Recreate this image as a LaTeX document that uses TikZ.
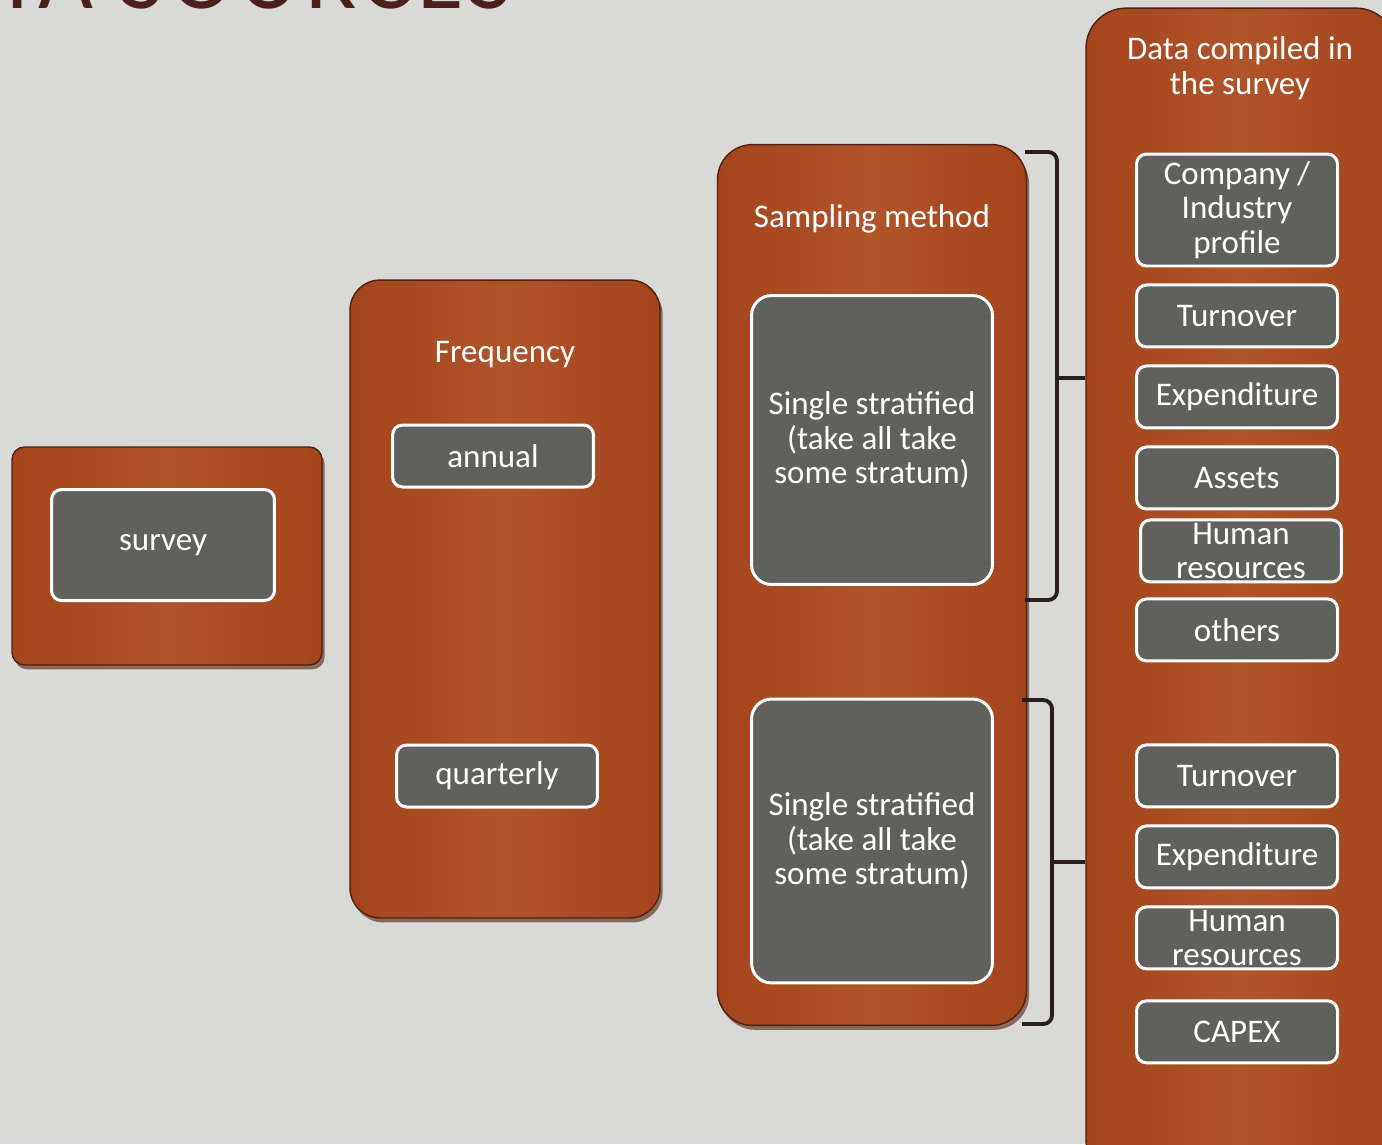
\documentclass[tikz,border=0pt]{standalone}
\usepackage{fontspec}
\setmainfont{Carlito}
\newfontfamily\headfont[LetterSpace=6]{Carlito}
\usepackage{tikz}
\usetikzlibrary{positioning, shadows}

\definecolor{canvas}{RGB}{217,217,215}
\definecolor{brickD}{RGB}{164,68,28}
\definecolor{brickL}{RGB}{176,84,42}
\definecolor{brickE}{RGB}{80,32,14}
\definecolor{slate}{RGB}{96,97,92}
\definecolor{ink}{RGB}{42,30,32}
\definecolor{headink}{RGB}{75,31,28}
\newcommand\boxfont{\fontsize{18.8}{19.6}\selectfont}

\tikzset{
	panel/.style={draw=brickE, line width=0.8pt, rounded corners=0.6cm,
		left color=brickD, right color=brickD, middle color=brickL,
		drop shadow={shadow xshift=1.5pt, shadow yshift=-2.5pt, opacity=.6, fill=brickE},
		inner sep=0},
	item/.style={draw=white, line width=0.06cm, fill=slate, rounded corners=0.2cm,
		text=white, font=\boxfont, align=center, inner sep=0,
		minimum width=4.02cm, minimum height=1.24cm},
	head/.style={text=white, font=\boxfont, align=center},
	brace/.style={draw=ink, line width=2.2pt, rounded corners=5pt}
}

\begin{document}
\begin{tikzpicture}[x=0.02cm, y=-0.02cm, node distance=0.32cm]
		\useasboundingbox[fill=canvas] (0,0) rectangle (1382,1144);
		\node[anchor=base east, inner sep=0, text=headink, font={\headfont\fontsize{54}{60}\selectfont}] (title) at (513,8) {DATA SOURCES};
		% survey
		\node[panel, rounded corners=0.25cm, minimum width=6.2cm, minimum height=4.36cm] (survey) at (167,556) {};
		\node[item, minimum width=4.46cm, minimum height=2.22cm] (surv) at (163,545) {survey};
		% frequency
		\node[panel, minimum width=6.2cm, minimum height=12.76cm] (freq) at (505,599) {};
		\node[head] (freqhd) at (505,355) {Frequency};
		\node[item] (annual) at (493,456) {annual};
		\node[item] (quart) at (497,776) {quarterly};
		% sampling
		\node[panel, rounded corners=0.7cm, minimum width=6.18cm, minimum height=17.62cm] (samp) at (872,585) {};
		\node[head] (samphd) at (872,219) {Sampling method};
		\node[item, rounded corners=0.4cm, minimum width=4.82cm, minimum height=5.78cm] (strat0) at (872,440) {Single stratified\\(take all take\\some stratum)};
		\node[item, rounded corners=0.4cm, minimum width=4.82cm, minimum height=5.68cm] (strat1) at (872,841) {Single stratified\\(take all take\\some stratum)};
		% data compiled
		\node[panel, rounded corners=0.8cm, minimum width=6.2cm, minimum height=23.44cm] (data) at (1241,594) {};
		\node[head] (datahd) at (1240,68) {Data compiled in\\the survey};
		\node[item, minimum height=2.24cm] (prof) at (1237,210) {Company /\\Industry\\profile};
		\node[item, below=of prof] (turn0) {Turnover};
		\node[item, below=of turn0] (exp0) {Expenditure};
		\node[item, below=of exp0] (assets) {Assets};
		\node[item, below=0.16cm of assets, xshift=0.08cm] (hr0) {Human\\resources};
		\node[item, below=0.28cm of hr0, xshift=-0.08cm] (others) {others};
		\node[item, below=1.62cm of others] (turn1) {Turnover};
		\node[item, below=of turn1] (exp1) {Expenditure};
		\node[item, below=of exp1] (hr1) {Human\\resources};
		\node[item, below=0.58cm of hr1] (capex) {CAPEX};
		% brackets
		\coordinate (b0a) at (1025,152);
		\coordinate (b0m) at (1057,378);
		\coordinate (b0b) at (1025,600);
		\coordinate (b1a) at (1022,700);
		\coordinate (b1m) at (1052,862);
		\coordinate (b1b) at (1022,1024);
		\draw[brace] (b0a) -| (b0m) |- (b0b);
		\draw[brace] (b0m) -- (data.west |- b0m);
		\draw[brace] (b1a) -| (b1m) |- (b1b);
		\draw[brace] (b1m) -- (data.west |- b1m);
\end{tikzpicture}
\end{document}
